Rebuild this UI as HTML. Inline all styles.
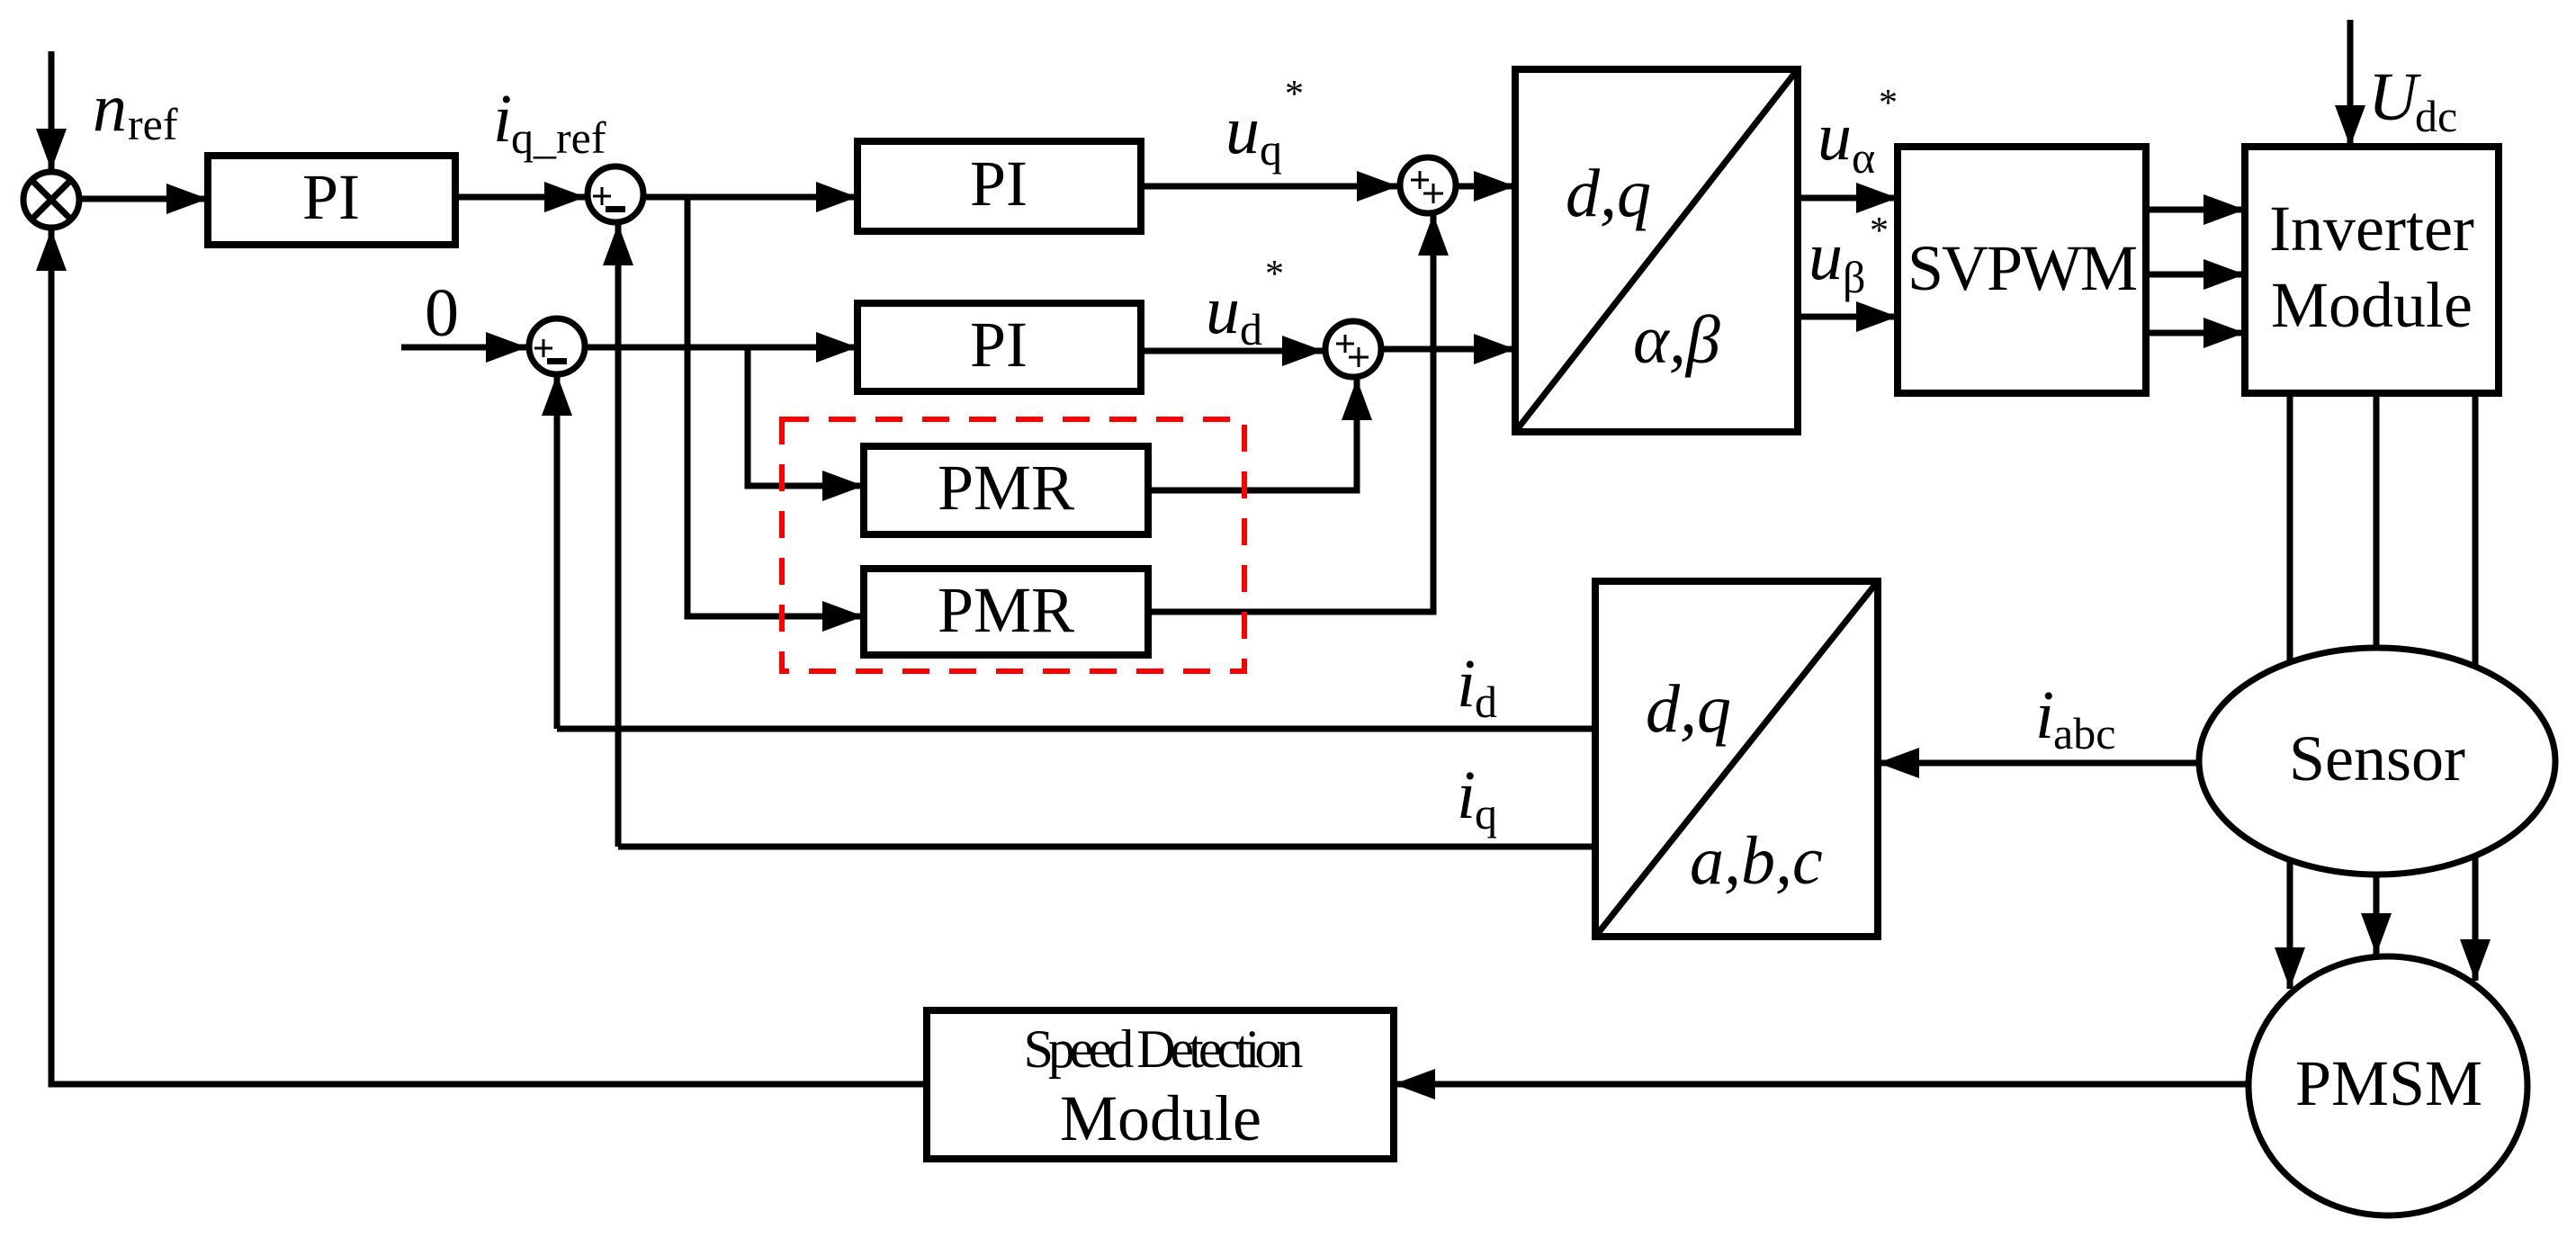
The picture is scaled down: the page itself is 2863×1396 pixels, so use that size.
<!DOCTYPE html>
<html><head><meta charset="utf-8"><style>
html,body{margin:0;padding:0;background:#fff}
svg{display:block}
text{font-family:"Liberation Serif",serif;fill:#000}
.it{font-style:italic}
</style></head><body>
<svg width="2863" height="1396" viewBox="0 0 2863 1396" xmlns="http://www.w3.org/2000/svg">
<defs>
<marker id="a" markerWidth="46" markerHeight="34" refX="46" refY="17" orient="auto" markerUnits="userSpaceOnUse">
<path d="M0,0 L46,17 L0,34 Z" fill="#000"/>
</marker>
</defs>
<g stroke="#000" stroke-width="7" fill="none">
<line x1="57" y1="57" x2="57" y2="189" marker-end="url(#a)"/>
<polyline points="1549,1205 57,1205 57,255" marker-end="url(#a)"/>
<line x1="89" y1="221" x2="231" y2="221" marker-end="url(#a)"/>
<rect x="231" y="173" width="275" height="99" stroke-width="8"/>
<line x1="506" y1="219" x2="651" y2="219" marker-end="url(#a)"/>
<line x1="716" y1="219" x2="953" y2="219" marker-end="url(#a)"/>
<polyline points="764,219 764,685 960,685" marker-end="url(#a)"/>
<polyline points="687,941 687,249" marker-end="url(#a)"/>
<line x1="446" y1="386" x2="586" y2="386" marker-end="url(#a)"/>
<line x1="652" y1="386" x2="953" y2="386" marker-end="url(#a)"/>
<polyline points="831,386 831,540 960,540" marker-end="url(#a)"/>
<polyline points="619,810 619,416" marker-end="url(#a)"/>
<rect x="953" y="157" width="315" height="100" stroke-width="8"/>
<rect x="953" y="337" width="315" height="98" stroke-width="8"/>
<rect x="960" y="496" width="316" height="98" stroke-width="8"/>
<rect x="960" y="632" width="316" height="96" stroke-width="8"/>
<polyline points="1276,545 1508,545 1508,421" marker-end="url(#a)"/>
<polyline points="1276,680 1593,680 1593,238" marker-end="url(#a)"/>
<rect x="869" y="466" width="514" height="280" stroke="#ff0000" stroke-width="6" stroke-dasharray="30,22"/>
<line x1="1268" y1="207" x2="1554" y2="207" marker-end="url(#a)"/>
<line x1="1619" y1="207" x2="1684" y2="207" marker-end="url(#a)"/>
<line x1="1268" y1="390" x2="1471" y2="390" marker-end="url(#a)"/>
<line x1="1536" y1="388" x2="1684" y2="388" marker-end="url(#a)"/>
<rect x="1684" y="77" width="314" height="403" stroke-width="8"/>
<line x1="1684" y1="480" x2="1998" y2="77"/>
<line x1="1998" y1="220" x2="2109" y2="220" marker-end="url(#a)"/>
<line x1="1998" y1="352" x2="2109" y2="352" marker-end="url(#a)"/>
<rect x="2109" y="163" width="276" height="274" stroke-width="8"/>
<line x1="2385" y1="233" x2="2495" y2="233" marker-end="url(#a)"/>
<line x1="2385" y1="305" x2="2495" y2="305" marker-end="url(#a)"/>
<line x1="2385" y1="370" x2="2495" y2="370" marker-end="url(#a)"/>
<rect x="2495" y="163" width="282" height="274" stroke-width="8"/>
<line x1="2612" y1="22" x2="2612" y2="163" marker-end="url(#a)"/>
<line x1="2545" y1="437" x2="2545" y2="846"/>
<line x1="2641" y1="437" x2="2641" y2="846"/>
<line x1="2751" y1="437" x2="2751" y2="846"/>
<line x1="2545" y1="846" x2="2545" y2="1099" marker-end="url(#a)"/>
<line x1="2641" y1="846" x2="2641" y2="1061" marker-end="url(#a)"/>
<line x1="2751" y1="846" x2="2751" y2="1090" marker-end="url(#a)"/>
<ellipse cx="2642" cy="846" rx="198" ry="126" fill="#fff"/>
<line x1="2444" y1="848" x2="2087" y2="848" marker-end="url(#a)"/>
<rect x="1773" y="646" width="314" height="395" stroke-width="8"/>
<line x1="1773" y1="1041" x2="2087" y2="646"/>
<line x1="1773" y1="810" x2="619" y2="810"/>
<line x1="1773" y1="941" x2="687" y2="941"/>
<ellipse cx="2654" cy="1207" rx="155" ry="144" fill="#fff"/>
<line x1="2499" y1="1205" x2="1549" y2="1205" marker-end="url(#a)"/>
<rect x="1030" y="1123" width="519" height="165" stroke-width="8" fill="#fff"/>
<circle cx="57" cy="222" r="31" fill="#fff"/>
<line x1="35" y1="200" x2="79" y2="244"/>
<line x1="79" y1="200" x2="35" y2="244"/>
<circle cx="684" cy="216" r="31" fill="#fff"/>
<circle cx="619" cy="385" r="31" fill="#fff"/>
<circle cx="1587" cy="206" r="31" fill="#fff"/>
<circle cx="1504" cy="388" r="31" fill="#fff"/>
</g>
<g stroke="#000" stroke-width="3" fill="none">
<path d="M659,218 h20 M669,208 v20"/>
<path d="M594,387 h20 M604,377 v20"/>
<path d="M1568,200 h20 M1578,190 v20 M1582,215 h22 M1593,204 v22"/>
<path d="M1485,382 h20 M1495,372 v20 M1499,397 h22 M1510,386 v22"/>
</g>
<g fill="#000">
<rect x="673" y="229" width="22" height="7"/>
<rect x="608" y="398" width="22" height="7"/>
</g>
<g font-size="72">
<text x="368" y="243" text-anchor="middle">PI</text>
<text x="1110" y="228" text-anchor="middle">PI</text>
<text x="1110" y="407" text-anchor="middle">PI</text>
<text x="1118" y="566" text-anchor="middle">PMR</text>
<text x="1118" y="702" text-anchor="middle">PMR</text>
<text x="2247" y="322" text-anchor="middle" letter-spacing="-2">SVPWM</text>
<text x="2636" y="278" text-anchor="middle">Inverter</text>
<text x="2636" y="363" text-anchor="middle">Module</text>
<text x="2642" y="867" text-anchor="middle">Sensor</text>
<text x="2655" y="1228" text-anchor="middle">PMSM</text>
<text x="1290" y="1186" text-anchor="middle" font-size="60" letter-spacing="-6">Speed Detection</text>
<text x="1290" y="1267" text-anchor="middle">Module</text>
<text x="472" y="373" font-size="76">0</text>
</g>
<g font-size="76">
<text class="it" x="103" y="145">n</text><text x="142" y="155" font-size="50">ref</text>
<text class="it" x="548" y="157">i</text><text x="568" y="170" font-size="50">q_ref</text>
<text class="it" x="1362" y="170">u</text><text x="1400" y="183" font-size="50">q</text><text x="1428" y="118" font-size="42">*</text>
<text class="it" x="1340" y="370">u</text><text x="1378" y="383" font-size="50">d</text><text x="1406" y="318" font-size="42">*</text>
<text class="it" x="1740" y="240">d,q</text>
<text class="it" x="1815" y="403">α,β</text>
<text class="it" x="2020" y="177">u</text><text x="2058" y="192" font-size="50">α</text><text x="2088" y="128" font-size="42">*</text>
<text class="it" x="2010" y="310">u</text><text x="2048" y="325" font-size="50">β</text><text x="2078" y="270" font-size="42">*</text>
<text class="it" x="2632" y="133">U</text><text x="2684" y="146" font-size="50">dc</text>
<text class="it" x="1619" y="785">i</text><text x="1639" y="797" font-size="50">d</text>
<text class="it" x="1619" y="909">i</text><text x="1639" y="921" font-size="50">q</text>
<text class="it" x="1829" y="813">d,q</text>
<text class="it" x="1878" y="982">a,b,c</text>
<text class="it" x="2262" y="820">i</text><text x="2282" y="832" font-size="50">abc</text>
</g>
</svg>
</body></html>
